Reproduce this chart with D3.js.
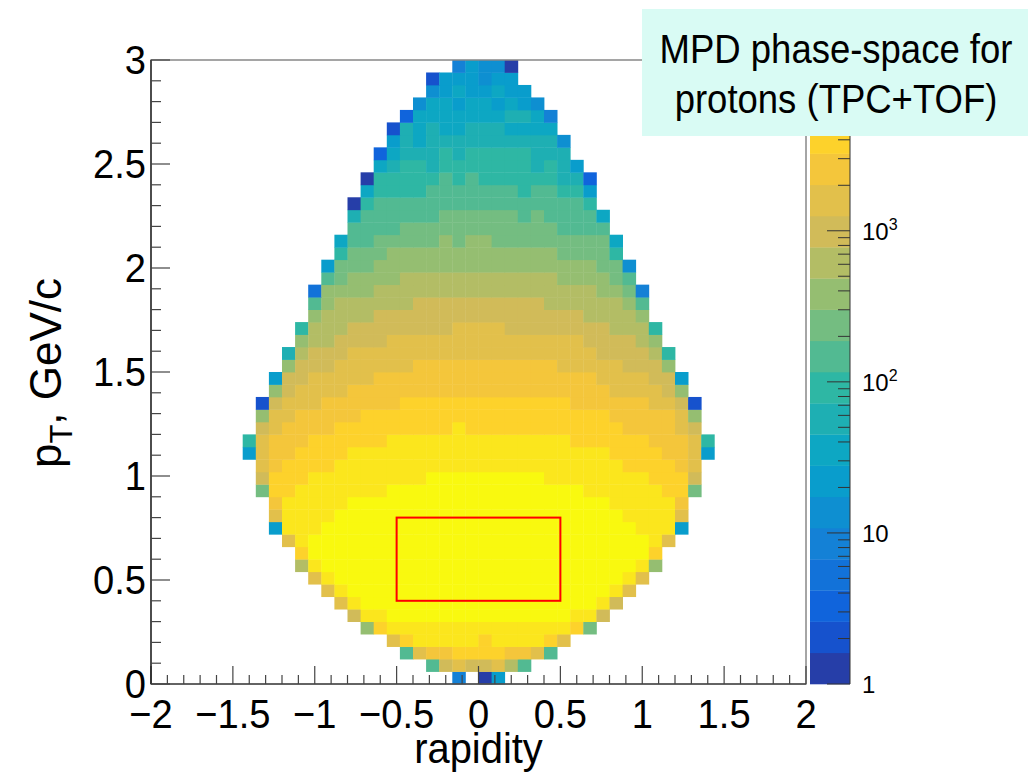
<!DOCTYPE html>
<html>
<head>
<meta charset="utf-8">
<script src="https://cdn.jsdelivr.net/npm/d3@7"></script>
<style>
    body { margin: 0; background: #fff; }
    svg { display: block; font-family: "Liberation Sans", Arial, sans-serif; }
</style>
</head>
<body>
<svg id="phase_space" width="1028" height="773"></svg>
<script>
//// DATA

// histogram binning
const xRange = [-2, 2];
const yRange = [0, 3];
const nBinsX = 50;
const nBinsY = 50;

// z axis (log), 20 contours
const zMin = 1;
const zMax = 13500;
const nContours = 20;

// contour level of every filled bin.
// one entry per pT row (row 0 = lowest), first filled rapidity bin + runs of [level, count]
const rowStart = [23, 21, 19, 18, 16, 15, 14, 13, 12, 11,
                  11, 10, 9, 9, 9, 8, 8, 8, 7, 7,
                  8, 8, 8, 9, 9, 10, 10, 11, 11, 12,
                  12, 12, 13, 13, 14, 14, 15, 15, 15, 16,
                  16, 17, 17, 18, 18, 19, 20, 21, 21, 23];
const rowRuns = [
    [[4,1],[null,1],[0,1],[6,1]],
    [[10,1],[14,1],[15,1],[14,2],[15,1],[13,1],[10,1]],
    [[10,1],[15,1],[16,2],[17,4],[16,2],[15,1],[10,1]],
    [[15,1],[17,1],[18,5],[17,1],[18,4],[17,1],[15,1]],
    [[12,1],[17,1],[18,14],[17,1],[11,1]],
    [[14,1],[18,2],[19,14],[18,2],[14,1]],
    [[15,1],[18,1],[19,18],[18,1],[14,1]],
    [[15,1],[18,1],[19,20],[18,1],[15,1]],
    [[15,1],[18,1],[19,22],[18,1],[15,1]],
    [[13,1],[18,1],[19,24],[18,1],[12,1]],
    [[17,1],[19,26],[17,1]],
    [[15,1],[18,1],[19,26],[18,1],[15,1]],
    [[6,1],[18,3],[19,24],[18,3],[6,1]],
    [[15,1],[18,4],[19,22],[18,4],[15,1]],
    [[16,1],[18,5],[19,20],[18,5],[16,1]],
    [[11,1],[17,2],[18,7],[19,15],[18,6],[17,2],[11,1]],
    [[14,1],[17,3],[18,9],[19,9],[18,8],[17,3],[14,1]],
    [[15,1],[16,1],[17,4],[18,22],[17,4],[16,1],[15,1]],
    [[6,1],[15,1],[16,2],[17,4],[18,20],[17,4],[16,2],[15,1],[6,1]],
    [[9,1],[15,1],[16,3],[17,6],[18,14],[17,6],[16,3],[15,1],[9,1]],
    [[14,1],[15,1],[16,4],[17,9],[18,1],[17,12],[16,4],[15,1],[14,1]],
    [[12,1],[15,2],[16,5],[17,19],[16,5],[15,1],[12,1]],
    [[1,1],[14,1],[15,3],[16,6],[17,13],[16,6],[15,2],[14,1],[1,1]],
    [[12,1],[14,1],[15,4],[16,20],[15,4],[14,1],[12,1]],
    [[6,1],[14,2],[15,5],[16,17],[15,4],[14,2],[6,1]],
    [[12,1],[14,3],[15,6],[16,11],[15,5],[14,3],[12,1]],
    [[8,1],[13,1],[14,3],[15,19],[14,4],[13,1],[9,1]],
    [[12,1],[13,2],[14,4],[15,15],[14,4],[13,1],[12,1]],
    [[9,1],[13,3],[14,8],[15,4],[14,8],[13,3],[9,1]],
    [[12,1],[13,4],[14,16],[13,4],[12,1]],
    [[10,1],[12,1],[13,6],[14,10],[13,6],[12,1],[10,1]],
    [[3,1],[12,4],[13,17],[12,2],[11,1],[4,1]],
    [[10,1],[11,1],[12,4],[13,12],[12,4],[11,1],[10,1]],
    [[6,1],[11,3],[12,17],[11,2],[5,1]],
    [[9,1],[11,3],[12,13],[11,4],[9,1]],
    [[7,1],[10,2],[11,5],[12,1],[11,1],[12,2],[11,9],[7,1]],
    [[10,4],[11,12],[10,4]],
    [[8,1],[10,6],[11,6],[10,1],[11,1],[10,4],[7,1]],
    [[0,1],[9,1],[10,16],[9,1]],
    [[7,1],[9,4],[10,7],[9,1],[10,2],[9,2],[6,1]],
    [[0,1],[9,5],[10,1],[9,1],[10,1],[9,6],[8,2],[2,1]],
    [[7,1],[8,1],[9,2],[8,1],[9,7],[8,1],[9,1],[8,1],[6,1]],
    [[2,1],[7,1],[8,3],[9,1],[8,1],[9,5],[8,3]],
    [[6,1],[8,1],[7,1],[8,10],[5,1]],
    [[1,1],[8,1],[7,1],[8,1],[7,2],[8,3],[7,4]],
    [[2,1],[7,7],[8,2],[7,1],[4,1]],
    [[5,1],[7,2],[6,1],[7,2],[6,1],[7,1],[6,1],[5,1]],
    [[5,1],[6,1],[7,1],[6,2],[7,1],[6,2]],
    [[1,1],[6,3],[5,1],[6,2]],
    [[4,1],[6,1],[5,2],[0,1]]
];

// selection box
const boxRapidity = [-0.5, 0.5];
const boxPt = [0.4, 0.8];

// axis text
const xTicks = [-2, -1.5, -1, -0.5, 0, 0.5, 1, 1.5, 2];
const yTicks = [0, 0.5, 1, 1.5, 2, 2.5, 3];
const zLabels = [1, 10, 100, 1000];
const titleLines = ["MPD phase-space for", "protons (TPC+TOF)"];


//// SETTINGS

const svg = d3.select("#phase_space");
const frame = { left: 151, right: 806, top: 60, bottom: 684 };
const bar = { left: 810, right: 850 };

const x = d3.scaleLinear().domain(xRange).range([frame.left, frame.right]);
const y = d3.scaleLinear().domain(yRange).range([frame.bottom, frame.top]);
const z = d3.scaleLog().domain([zMin, zMax]).range([frame.bottom, frame.top]);
const level = d3.scaleLog().domain([zMin, zMax]).range([0, nContours]);

const binW = (xRange[1] - xRange[0]) / nBinsX;
const binH = (yRange[1] - yRange[0]) / nBinsY;

const fmt = v => String(v).replace("-", "\u2212");

//// FUNCTION CALLS
const palette = birdPalette(255);
const contourColors = d3.range(nContours).map(i => palette[Math.floor((i + 0.99) * palette.length / nContours)]);
const cells = buildCells();

drawCells();
drawBox();
drawFrame();
drawAxes();
drawColorBar();
drawTitle();


//// FUNCTIONS

// ROOT kBird gradient
function birdPalette(n) {
    const stops = [0.0, 0.125, 0.25, 0.375, 0.5, 0.625, 0.75, 0.875, 1.0];
    const red = [0.2082, 0.0592, 0.0780, 0.0232, 0.1802, 0.5301, 0.8186, 0.9956, 0.9764];
    const green = [0.1664, 0.3599, 0.5041, 0.6419, 0.7178, 0.7492, 0.7328, 0.7862, 0.9832];
    const blue = [0.5293, 0.8684, 0.8385, 0.7914, 0.6425, 0.4662, 0.3499, 0.1968, 0.0539];
    let cols = [];
    for (let g = 1; g < stops.length; g++) {
        let k = Math.floor(n * stops[g]) - Math.floor(n * stops[g - 1]);
        for (let c = 0; c < k; c++) {
            cols.push(d3.rgb(
                255 * (red[g - 1] + c * (red[g] - red[g - 1]) / k),
                255 * (green[g - 1] + c * (green[g] - green[g - 1]) / k),
                255 * (blue[g - 1] + c * (blue[g] - blue[g - 1]) / k)
            ).formatHex());
        }
    }
    return cols;
}

function buildCells() {
    let out = [];
    rowRuns.forEach(function (runs, row) {
        let col = rowStart[row];
        runs.forEach(function (run) {
            for (let k = 0; k < run[1]; k++) {
                if (run[0] !== null) {
                    // bin content taken in the middle of its contour
                    let content = level.invert(run[0] + 0.5);
                    out.push({ col: col, row: row, content: content });
                }
                col++;
            }
        });
    });
    return out;
}

function drawCells() {
    svg.append("g")
        .selectAll("rect")
        .data(cells)
        .enter()
        .append("rect")
        .attr("x", d => x(xRange[0] + d.col * binW))
        .attr("y", d => y(yRange[0] + (d.row + 1) * binH))
        .attr("width", d => x(xRange[0] + (d.col + 1) * binW) - x(xRange[0] + d.col * binW) + 0.4)
        .attr("height", d => y(yRange[0] + d.row * binH) - y(yRange[0] + (d.row + 1) * binH) + 0.4)
        .attr("fill", d => contourColors[Math.min(nContours - 1, Math.floor(level(d.content)))]);
}

function drawBox() {
    svg.append("rect")
        .attr("x", x(boxRapidity[0]))
        .attr("y", y(boxPt[1]))
        .attr("width", x(boxRapidity[1]) - x(boxRapidity[0]))
        .attr("height", y(boxPt[0]) - y(boxPt[1]))
        .attr("fill", "none")
        .attr("stroke", "#ff0000")
        .attr("stroke-width", 2);
}

function drawFrame() {
    svg.append("rect")
        .attr("x", frame.left)
        .attr("y", frame.top)
        .attr("width", frame.right - frame.left)
        .attr("height", frame.bottom - frame.top)
        .attr("fill", "none")
        .attr("stroke", "#888")
        .attr("stroke-width", 1.5);
}

function drawAxes() {
    const g = svg.append("g").attr("stroke", "#444").attr("stroke-width", 1.2);

    // x axis, ticks pointing up
    const xMinor = d3.range(-20, 21).map(v => v / 10);
    g.append("line").attr("x1", frame.left).attr("x2", frame.right)
        .attr("y1", frame.bottom).attr("y2", frame.bottom).attr("stroke", "#222");
    g.selectAll(".xtick")
        .data(xMinor)
        .enter()
        .append("line")
        .attr("class", "xtick")
        .attr("x1", d => x(d)).attr("x2", d => x(d))
        .attr("y1", frame.bottom)
        .attr("y2", d => frame.bottom - (Math.abs(d * 2 - Math.round(d * 2)) < 1e-6 ? 18 : 9));

    // y axis, ticks pointing right
    const yMinor = d3.range(0, 31).map(v => v / 10);
    g.append("line").attr("x1", frame.left).attr("x2", frame.left)
        .attr("y1", frame.top).attr("y2", frame.bottom).attr("stroke", "#111");
    g.selectAll(".ytick")
        .data(yMinor)
        .enter()
        .append("line")
        .attr("class", "ytick")
        .attr("y1", d => y(d)).attr("y2", d => y(d))
        .attr("x1", frame.left)
        .attr("x2", d => frame.left + (Math.abs(d * 2 - Math.round(d * 2)) < 1e-6 ? 19 : 10));

    svg.append("g")
        .selectAll("text")
        .data(xTicks)
        .enter()
        .append("text")
        .attr("transform", d => "translate(" + x(d) + ",728) scale(0.93,1)")
        .attr("text-anchor", "middle")
        .attr("font-size", 41)
        .text(fmt);

    svg.append("g")
        .selectAll("text")
        .data(yTicks)
        .enter()
        .append("text")
        .attr("transform", d => "translate(146," + (y(d) + 14) + ") scale(0.93,1)")
        .attr("text-anchor", "end")
        .attr("font-size", 41)
        .text(fmt);

    svg.append("text")
        .attr("transform", "translate(" + x(0) + ",763) scale(0.95,1)")
        .attr("text-anchor", "middle")
        .attr("font-size", 42)
        .text("rapidity");

    const yt = svg.append("text")
        .attr("transform", "translate(61,373) rotate(-90)")
        .attr("text-anchor", "middle")
        .attr("font-size", 44);
    yt.append("tspan").text("p");
    yt.append("tspan").attr("font-size", 31).attr("dy", 11).text("T");
    yt.append("tspan").attr("dy", -11).text(", GeV/c");
}

function drawColorBar() {
    const g = svg.append("g");
    g.selectAll("rect")
        .data(contourColors)
        .enter()
        .append("rect")
        .attr("x", bar.left)
        .attr("width", bar.right - bar.left)
        .attr("y", (d, i) => z(level.invert(i + 1)))
        .attr("height", (d, i) => z(level.invert(i)) - z(level.invert(i + 1)) + 0.3)
        .attr("fill", d => d);

    g.append("line")
        .attr("x1", bar.right).attr("x2", bar.right)
        .attr("y1", frame.top).attr("y2", frame.bottom)
        .attr("stroke", "#333");

    let ticks = [];
    for (let p = 1; p <= zMax; p *= 10) {
        for (let m = 1; m < 10; m++) {
            if (m * p <= zMax) ticks.push({ v: m * p, major: m === 1 });
        }
    }
    g.selectAll(".ztick")
        .data(ticks)
        .enter()
        .append("line")
        .attr("class", "ztick")
        .attr("x1", bar.right)
        .attr("x2", d => bar.right - (d.major ? 23 : 12))
        .attr("y1", d => z(d.v)).attr("y2", d => z(d.v))
        .attr("stroke", "#333");

    const lab = g.selectAll(".zlab")
        .data(zLabels)
        .enter()
        .append("text")
        .attr("class", "zlab")
        .attr("x", 862)
        .attr("y", d => z(d) + 9)
        .attr("font-size", 24);
    lab.append("tspan").text(d => d < 100 ? String(d) : "10");
    lab.filter(d => d >= 100)
        .append("tspan")
        .attr("font-size", 16)
        .attr("dy", -10)
        .text(d => String(Math.round(Math.log10(d))));
}

function drawTitle() {
    svg.append("rect")
        .attr("x", 642)
        .attr("y", 9)
        .attr("width", 386)
        .attr("height", 127)
        .attr("fill", "#d9fbf4");

    svg.append("g")
        .selectAll("text")
        .data(titleLines)
        .enter()
        .append("text")
        .attr("transform", (d, i) => "translate(836," + (63 + i * 50) + ") scale(0.89,1)")
        .attr("text-anchor", "middle")
        .attr("font-size", 41)
        .text(d => d);
}
</script>
</body>
</html>
